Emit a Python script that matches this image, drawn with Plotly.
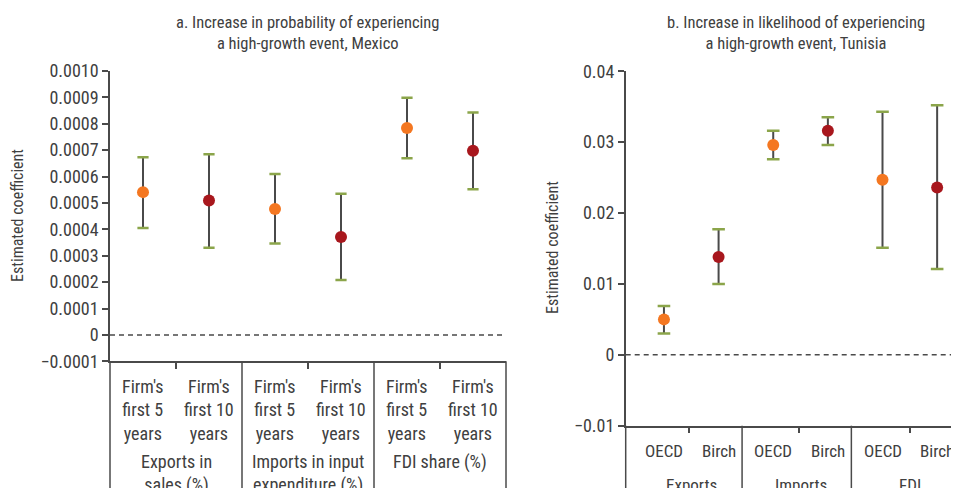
import plotly.graph_objects as go

# ---------------- data ----------------
mx_categories = ["Firm's<br>first 5<br>years", "Firm's<br>first 10<br>years",
                 "Firm's<br>first 5<br>years", "Firm's<br>first 10<br>years",
                 "Firm's<br>first 5<br>years", "Firm's<br>first 10<br>years"]
mx_groups = ["Exports in<br>sales (%)", "Imports in input<br>expenditure (%)", "FDI share (%)"]
mx_est = [0.000541, 0.000509, 0.000477, 0.000371, 0.000784, 0.000698]
mx_upper = [0.000673, 0.000685, 0.000610, 0.000535, 0.000899, 0.000843]
mx_lower = [0.000405, 0.000330, 0.000346, 0.000208, 0.000669, 0.000552]

tn_categories = ["OECD", "Birch", "OECD", "Birch", "OECD", "Birch"]
tn_groups = ["Exports", "Imports", "FDI"]
tn_est = [0.0050, 0.0138, 0.0296, 0.0316, 0.0247, 0.0236]
tn_upper = [0.0069, 0.0177, 0.0316, 0.0335, 0.0343, 0.0352]
tn_lower = [0.0030, 0.0100, 0.0276, 0.0296, 0.0151, 0.0121]

mx_yticks = [-0.0001, 0, 0.0001, 0.0002, 0.0003, 0.0004, 0.0005, 0.0006, 0.0007, 0.0008, 0.0009, 0.0010]
mx_yticktext = ["\u22120.0001", "0", "0.0001", "0.0002", "0.0003", "0.0004", "0.0005",
                "0.0006", "0.0007", "0.0008", "0.0009", "0.0010"]
tn_yticks = [-0.01, 0, 0.01, 0.02, 0.03, 0.04]
tn_yticktext = ["\u22120.01", "0", "0.01", "0.02", "0.03", "0.04"]

# ---------------- style ----------------
W, H = 959, 488
OFF = 8  # page body margin compensation
FONT = "Liberation Sans Narrow, Roboto Condensed, DejaVu Sans Condensed, Arial Narrow, Roboto, sans-serif"
TXT = "#404040"
AX = "#4a4a4a"
ORANGE = "#F47721"
RED = "#A8171D"
GREEN = "#8BA54A"
point_colors = [ORANGE, RED] * 3

def px_x(p):
    return (p - OFF) / W

def px_y(p):
    return 1 - (p - OFF) / H

# left panel geometry (paper coords)
L_xdom = [px_x(110), px_x(506)]
L_ydom = [px_y(361.3), px_y(71)]
L_xr = [-0.5, 5.5]
L_yr = [-0.0001, 0.0010]
# right panel
R_xdom = [px_x(625.7), px_x(959)]
R_ydom = [px_y(425.7), px_y(71.3)]
R_xr = [-0.7, 5.4]
R_yr = [-0.01, 0.04]

def xpaper(v, dom, r):
    return dom[0] + (v - r[0]) / (r[1] - r[0]) * (dom[1] - dom[0])

fig = go.Figure()

def add_panel(est, up, lo, xa, ya, capsize):
    xs = list(range(len(est)))
    fig.add_trace(go.Scatter(
        x=xs, y=est, xaxis=xa, yaxis=ya, mode="markers",
        marker=dict(size=12, color=point_colors, line=dict(width=0)),
        error_y=dict(type="data", symmetric=False,
                     array=[u - e for u, e in zip(up, est)],
                     arrayminus=[e - l for e, l in zip(est, lo)],
                     color=AX, thickness=2, width=0),
        showlegend=False, hoverinfo="skip"))
    fig.add_trace(go.Scatter(
        x=xs + xs, y=list(up) + list(lo), xaxis=xa, yaxis=ya, mode="markers",
        marker=dict(symbol="line-ew", size=capsize, line=dict(width=2.5, color=GREEN)),
        showlegend=False, hoverinfo="skip"))

add_panel(mx_est, mx_upper, mx_lower, "x", "y", 8)
add_panel(tn_est, tn_upper, tn_lower, "x2", "y2", 9)

axis_common = dict(showgrid=False, zeroline=False, showline=True, linecolor=AX, linewidth=1.5,
                   ticks="outside", tickcolor=AX, tickwidth=1.5, ticklen=6, automargin=False,
                   tickfont=dict(family=FONT, size=18, color=TXT))
xaxis_common = {k: v for k, v in axis_common.items() if k != "tickfont"}

fig.update_layout(
    width=W, height=H, autosize=False,
    margin=dict(l=0, r=0, t=0, b=0, pad=0, autoexpand=False),
    paper_bgcolor="white", plot_bgcolor="white", showlegend=False,
    xaxis=dict(domain=L_xdom, range=L_xr, anchor="y", tickvals=[0.5, 2.5, 4.5],
               showticklabels=False, **xaxis_common),
    yaxis=dict(domain=L_ydom, range=L_yr, anchor="x", tickvals=mx_yticks, ticktext=mx_yticktext,
               **axis_common),
    xaxis2=dict(domain=R_xdom, range=R_xr, anchor="y2", tickvals=[0.45, 2.48, 4.5],
                showticklabels=False, **xaxis_common),
    yaxis2=dict(domain=R_ydom, range=R_yr, anchor="x2", tickvals=tn_yticks, ticktext=tn_yticktext,
                **axis_common),
)

shapes = []
# dashed zero lines
for xr_, yr_ in (("x domain", "y"), ("x2 domain", "y2")):
    shapes.append(dict(type="line", xref=xr_, yref=yr_, x0=0, x1=1, y0=0, y1=0,
                       line=dict(color=AX, width=1.5, dash="5px,4px")))
# group separators extending below the axes
for v in [-0.5, 1.5, 3.5, 5.5]:
    xp = xpaper(v, L_xdom, L_xr)
    shapes.append(dict(type="line", xref="paper", yref="paper", x0=xp, x1=xp,
                       y0=L_ydom[0], y1=0, line=dict(color=AX, width=1.5)))
for v in [-0.7, 1.43, 3.43]:
    xp = xpaper(v, R_xdom, R_xr)
    shapes.append(dict(type="line", xref="paper", yref="paper", x0=xp, x1=xp,
                       y0=R_ydom[0], y1=0, line=dict(color=AX, width=1.5)))
fig.update_layout(shapes=shapes)

ann = []
tfont = dict(family=FONT, size=16.5, color=TXT)
ann.append(dict(text="a. Increase in probability of experiencing<br>a high-growth event, Mexico",
                xref="paper", yref="paper", x=px_x(307), y=px_y(33), xanchor="center", yanchor="middle",
                showarrow=False, font=tfont))
ann.append(dict(text="b. Increase in likelihood of experiencing<br>a high-growth event, Tunisia",
                xref="paper", yref="paper", x=px_x(796), y=px_y(33), xanchor="center", yanchor="middle",
                showarrow=False, font=tfont))
yfont = dict(family=FONT, size=16, color=TXT)
ann.append(dict(text="Estimated coefficient", xref="paper", yref="paper", x=px_x(17), y=px_y(216),
                xanchor="center", yanchor="middle", textangle=-90, showarrow=False, font=yfont))
ann.append(dict(text="Estimated coefficient", xref="paper", yref="paper", x=px_x(552), y=px_y(248),
                xanchor="center", yanchor="middle", textangle=-90, showarrow=False, font=yfont))
cfont = dict(family=FONT, size=18, color=TXT)
cfont_r = dict(family=FONT, size=17, color=TXT)
for i, c in enumerate(mx_categories):
    ann.append(dict(text=c, xref="x", yref="paper", x=i, y=px_y(374), xanchor="center", yanchor="top",
                    showarrow=False, font=cfont))
for j, g in enumerate(mx_groups):
    ann.append(dict(text=g, xref="x", yref="paper", x=2 * j + 0.5, y=px_y(449), xanchor="center",
                    yanchor="top", showarrow=False, font=cfont))
for i, c in enumerate(tn_categories):
    ann.append(dict(text=c, xref="x2", yref="paper", x=i, y=px_y(439), xanchor="center", yanchor="top",
                    showarrow=False, font=cfont_r))
for j, g in enumerate(tn_groups):
    ann.append(dict(text=g, xref="x2", yref="paper", x=2 * j + 0.5, y=px_y(473), xanchor="center",
                    yanchor="top", showarrow=False, font=cfont_r))
fig.update_layout(annotations=ann)

fig.write_html("out.html")
